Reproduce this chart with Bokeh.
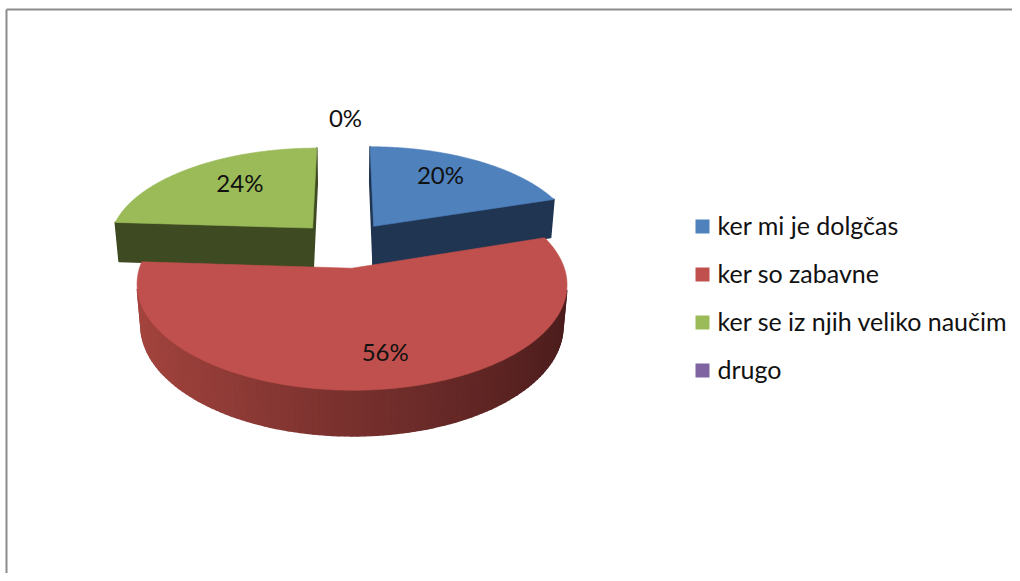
import numpy as np
from bokeh.plotting import figure
from bokeh.models import Range1d
from bokeh.embed import file_html
from bokeh.resources import INLINE
from bokeh.core.properties import value

# ---- data ----
categories = ["ker mi je dolgčas", "ker so zabavne", "ker se iz njih veliko naučim", "drugo"]
shares = [20, 56, 24, 0]
pct_labels = ["20%", "56%", "24%", "0%"]
top_colors = ["#4F81BD", "#C0504D", "#9BBB59", "#8064A2"]
side_colors = ["#1F3552", "#77302D", "#3E4A22", "#3F3151"]

# ---- 3D pie projection (screen-pixel data space) ----
F = 1230.0
D = 6.0
PHI = np.radians(28)
X0, Y0 = 345.0, 244.0
H = 0.225
EXPLODE = 0.24
LABEL_R = [0.71, 0.74, 0.655, 1.37]
LABEL_DA = [-4.0, -3.4, 5.2, 0.0]   # degrees

cam = np.array([0.0, -D * np.cos(PHI), D * np.sin(PHI)])


def proj(X, Y, Z):
    yc = Y * np.sin(PHI) + Z * np.cos(PHI)
    zc = D + Y * np.cos(PHI) - Z * np.sin(PHI)
    return X0 + F * X / zc, Y0 - F * yc / zc


def hex2rgb(h):
    h = h.lstrip("#")
    return np.array([int(h[i:i + 2], 16) for i in (0, 2, 4)], dtype=float)


def rgb2hex(c):
    c = np.clip(np.round(c), 0, 255).astype(int)
    return "#%02X%02X%02X" % tuple(c)


red_dark = hex2rgb("#4A1C1C")
red_light = hex2rgb("#A6453F")

total = float(sum(shares))
bounds = np.concatenate([[0], np.cumsum(shares)]) / total * 2 * np.pi

slices = []
for i, s in enumerate(shares):
    a0, a1 = bounds[i], bounds[i + 1]
    mid = (a0 + a1) / 2
    ox, oy = EXPLODE * np.sin(mid), EXPLODE * np.cos(mid)
    slices.append(dict(i=i, a0=a0, a1=a1, mid=mid, ox=ox, oy=oy))

groups = []
order = sorted([s for s in slices if shares[s["i"]] > 0], key=lambda s: -s["oy"])
for s in order:
    i, a0, a1, ox, oy = s["i"], s["a0"], s["a1"], s["ox"], s["oy"]
    faces = []  # (depth, xs, ys, color)
    n = max(int(np.degrees(a1 - a0) / 1.5), 2)
    ts = np.linspace(a0, a1, n + 1)
    for k in range(n):
        t0, t1 = ts[k], ts[k + 1]
        tm = (t0 + t1) / 2
        P = np.array([ox + np.sin(tm), oy + np.cos(tm), -H / 2])
        nrm = np.array([np.sin(tm), np.cos(tm), 0.0])
        if np.dot(cam - P, nrm) <= 0:
            continue
        pts = [(ox + np.sin(t0), oy + np.cos(t0), 0), (ox + np.sin(t1), oy + np.cos(t1), 0),
               (ox + np.sin(t1), oy + np.cos(t1), -H), (ox + np.sin(t0), oy + np.cos(t0), -H)]
        xs, ys = zip(*[proj(*p) for p in pts])
        if i == 1:
            f = (1 - np.sin(tm)) / 2
            col = rgb2hex(red_dark + (red_light - red_dark) * f)
        else:
            col = side_colors[i]
        faces.append((np.linalg.norm(cam - P), list(xs), list(ys), col))
    for a, nrm in ((a0, np.array([-np.cos(a0), np.sin(a0), 0.0])),
                   (a1, np.array([np.cos(a1), -np.sin(a1), 0.0]))):
        P = np.array([ox + 0.5 * np.sin(a), oy + 0.5 * np.cos(a), -H / 2])
        if np.dot(cam - P, nrm) <= 0:
            continue
        pts = [(ox, oy, 0), (ox + np.sin(a), oy + np.cos(a), 0),
               (ox + np.sin(a), oy + np.cos(a), -H), (ox, oy, -H)]
        xs, ys = zip(*[proj(*p) for p in pts])
        faces.append((np.linalg.norm(cam - P), list(xs), list(ys), side_colors[i]))
    faces.sort(key=lambda f: -f[0])
    tt = np.linspace(a0, a1, 200)
    tx, ty = proj(np.concatenate([[ox], ox + np.sin(tt)]),
                  np.concatenate([[oy], oy + np.cos(tt)]), 0.0)
    groups.append((faces, (list(tx), list(ty), top_colors[i])))

p = figure(width=1012, height=573, output_backend="svg", toolbar_location=None,
           x_range=Range1d(0, 1012), y_range=Range1d(573, 0), min_border=0)
p.axis.visible = False
p.grid.visible = False
p.outline_line_color = None
p.background_fill_color = "white"
p.border_fill_color = "white"

for faces, top in groups:
    if faces:
        p.patches([f[1] for f in faces], [f[2] for f in faces],
                  fill_color=[f[3] for f in faces], line_color=[f[3] for f in faces],
                  line_width=1.6, line_join="round")
    p.patches([top[0]], [top[1]], fill_color=top[2], line_color=top[2], line_width=0.6)

# data labels
lx, ly = [], []
for s in slices:
    r = LABEL_R[s["i"]]
    ang = s["mid"] + np.radians(LABEL_DA[s["i"]])
    x, y = proj(s["ox"] + r * np.sin(ang), s["oy"] + r * np.cos(ang), 0.0)
    lx.append(x)
    ly.append(y - 1.5)
p.text(lx, ly, text=pct_labels, text_font=value("Lato"), text_font_size=value("24px"),
       text_align="center", text_baseline="middle", text_color="#111111")

# legend
leg_y = [226 + 48 * k for k in range(len(categories))]
p.scatter([702] * len(categories), leg_y, marker="square", size=14,
          fill_color=top_colors, line_color=None)
p.text([717] * len(categories), [y - 1.5 for y in leg_y], text=categories, text_font=value("Lato"),
       text_font_size=value("25px"), text_align="left", text_baseline="middle",
       text_color="#111111")

# chart border (top and left visible)
p.segment([6, 6], [9, 9], [1019, 6], [9, 573], line_color="#8C8C8C", line_width=2)

open("out.html", "w").write(file_html(p, INLINE))
